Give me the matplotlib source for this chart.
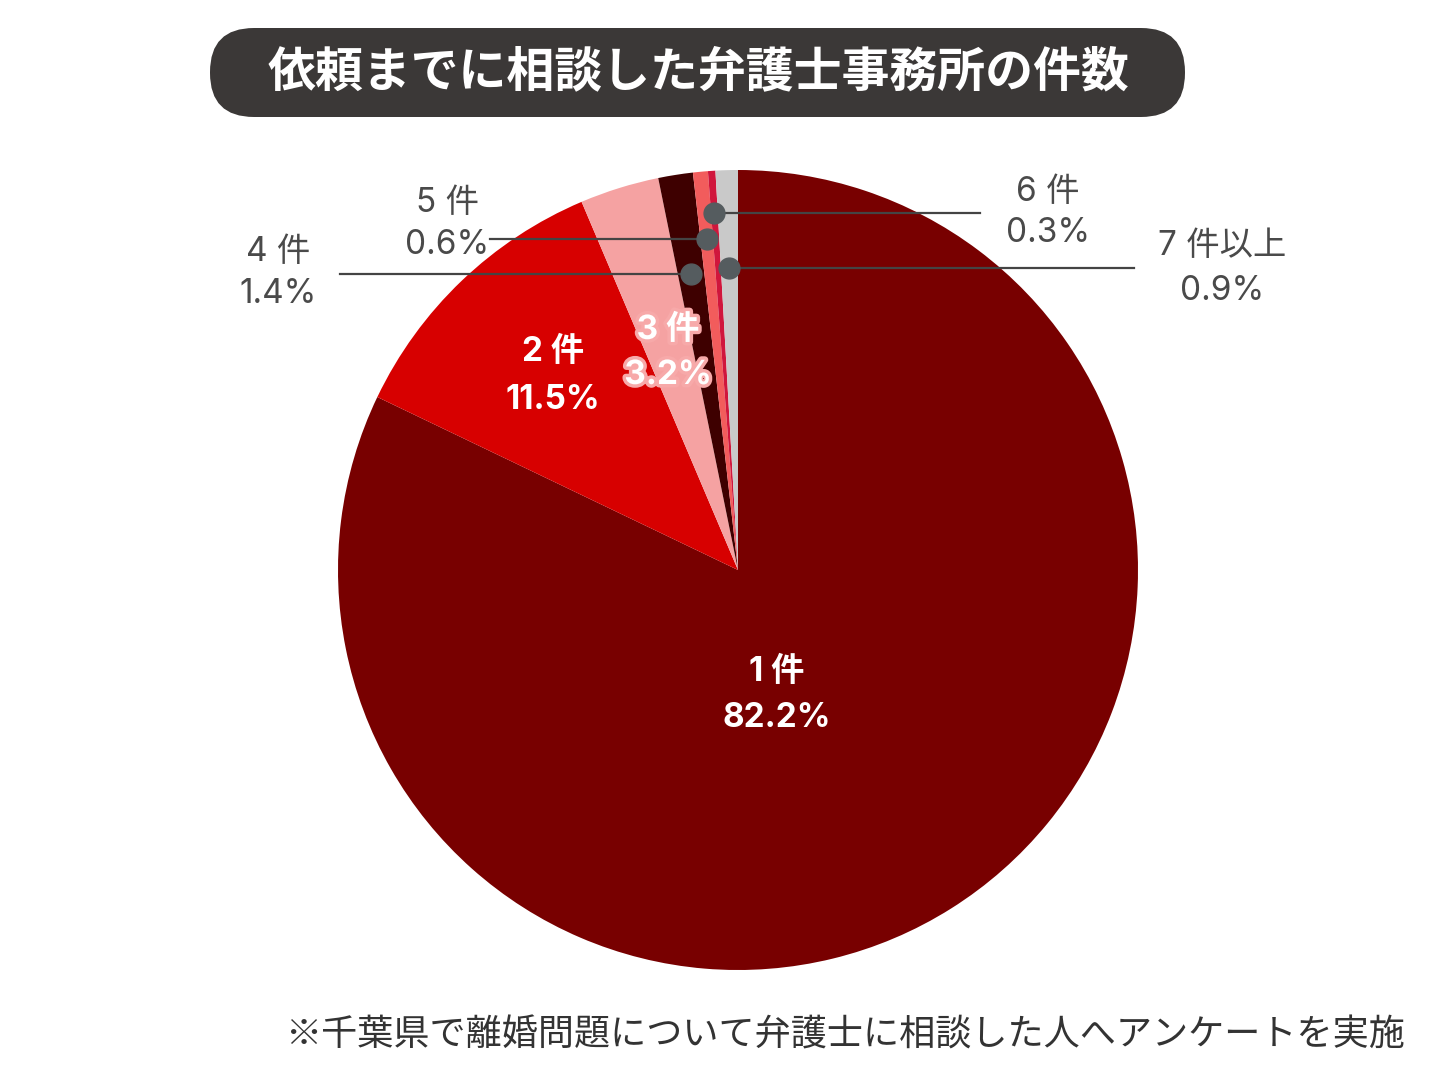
import matplotlib
matplotlib.use("Agg")
import numpy as np
import matplotlib.pyplot as plt
import matplotlib.patheffects as pe
from matplotlib.patches import FancyBboxPatch

plt.rcParams['font.family'] = ['Noto Sans CJK JP', 'DejaVu Sans']
LABEL_FONT = ['Inter', 'Noto Sans CJK JP', 'DejaVu Sans']

# Data
categories = ["1 件", "2 件", "3 件", "4 件", "5 件", "6 件", "7 件以上"]
values = [82.2, 11.5, 3.2, 1.4, 0.6, 0.3, 0.9]
value_labels = ["82.2%", "11.5%", "3.2%", "1.4%", "0.6%", "0.3%", "0.9%"]
colors = ["#780000", "#d70000", "#f5a2a2", "#3e0000", "#f25c5c", "#d0163c", "#c9c9c9"]

title = "依頼までに相談した弁護士事務所の件数"
footnote = "※千葉県で離婚問題について弁護士に相談した人へアンケートを実施"

W, H = 1440, 1073
fig = plt.figure(figsize=(W / 100, H / 100), dpi=100)
fig.patch.set_facecolor("white")

# background axes in pixel coords for title box + footnote
bg = fig.add_axes([0, 0, 1, 1])
bg.set_xlim(0, W)
bg.set_ylim(H, 0)
bg.axis("off")
box = FancyBboxPatch((210, 28), 975, 89, boxstyle="round,pad=0,rounding_size=44",
                     facecolor="#3b3837", edgecolor="none")
bg.add_patch(box)
bg.text(698, 72, title, color="white", fontsize=34.5, fontweight="bold",
        ha="center", va="center")
bg.text(845, 1036, footnote, color="#333333", fontsize=26, ha="center", va="center")

# pie axes: center (738, 570), radius 400 px
cx, cy, R = 738, 570, 400
ax = fig.add_axes([(cx - R) / W, (H - cy - R) / H, 2 * R / W, 2 * R / H])
wedges, _ = ax.pie(values, colors=colors, startangle=90, counterclock=False,
                   radius=1.0, wedgeprops=dict(linewidth=0))
ax.set_xlim(-1, 1)
ax.set_ylim(-1, 1)
ax.axis("off")

# labels inside the big slices
inside = {0: (0.0975, -0.255, -0.37), 1: (-0.4625, 0.545, 0.425), 2: (-0.175, 0.6, 0.4875)}
for i, (x, y1, y2) in inside.items():
    effects = [pe.withStroke(linewidth=5, foreground="#f7a9a9")] if i == 2 else None
    ax.text(x, y1, categories[i], color="white", fontsize=24, fontweight="bold",
            family=LABEL_FONT, ha="center", va="center", path_effects=effects)
    ax.text(x, y2, value_labels[i], color="white", fontsize=24, fontweight="bold",
            family=LABEL_FONT, ha="center", va="center", path_effects=effects)

# callouts for the small slices: (dot radius, line end x, text x, text y1, text y2)
callouts = {
    3: (0.75, -0.995, -1.15, 0.795, 0.69),
    4: (0.83, -0.62, -0.7275, 0.9175, 0.8125),
    5: (0.895, 0.605, 0.775, 0.945, 0.8425),
    6: (0.755, 0.99, 1.21, 0.81, 0.6975),
}
for i, (r, xend, tx, ty1, ty2) in callouts.items():
    w = wedges[i]
    mid = np.deg2rad((w.theta1 + w.theta2) / 2)
    dx, dy = r * np.cos(mid), r * np.sin(mid)
    ax.plot([dx, xend], [dy, dy], color="#444444", lw=1.6, clip_on=False, zorder=4)
    ax.plot(dx, dy, "o", color="#555c5f", markersize=15, clip_on=False, zorder=5)
    ax.text(tx, ty1, categories[i], color="#4a4a4a", fontsize=24, family=LABEL_FONT,
            ha="center", va="center", clip_on=False)
    ax.text(tx, ty2, value_labels[i], color="#4a4a4a", fontsize=24, family=LABEL_FONT,
            ha="center", va="center", clip_on=False)

fig.savefig("out.png", dpi=100, facecolor="white")
